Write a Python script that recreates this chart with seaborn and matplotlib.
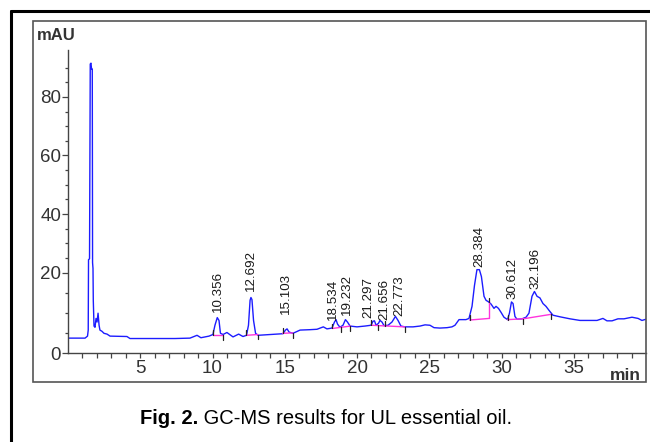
import numpy as np
import pandas as pd
import seaborn as sns
import matplotlib.pyplot as plt
from matplotlib.patches import Rectangle
from matplotlib.lines import Line2D

# chromatogram trace: retention time (min) and signal (mAU)
trace_time = [0.0, 1.18, 1.35, 1.40, 1.42, 1.49, 1.54, 1.59, 1.63, 1.68, 1.70, 1.73, 1.75,
              1.80, 1.87, 1.94, 2.01, 2.08, 2.15, 2.21, 2.35, 2.49, 2.70, 2.91, 4.08, 4.29,
              7.40, 8.44, 8.93, 9.20, 9.76, 10.03, 10.17, 10.33, 10.45, 10.55, 10.73, 11.00,
              11.42, 11.81, 12.11, 12.35, 12.49, 12.60, 12.66, 12.73, 12.84, 12.98, 13.15,
              13.98, 14.88, 15.05, 15.16, 15.30, 15.57, 16.06, 16.75, 17.23, 17.67, 17.92,
              18.27, 18.44, 18.55, 18.65, 18.82, 19.03, 19.20, 19.34, 19.52, 20.00, 20.55,
              20.97, 21.11, 21.21, 21.32, 21.49, 21.59, 21.73, 21.87, 22.15, 22.42, 22.66,
              22.84, 23.04, 23.32, 23.88, 24.36, 24.71, 25.05, 25.33, 25.74, 26.23, 26.57,
              26.78, 27.06, 27.54, 27.75, 27.96, 28.13, 28.30, 28.47, 28.61, 28.79, 28.93,
              29.07, 29.27, 29.48, 29.62, 29.79, 29.97, 30.17, 30.42, 30.55, 30.69, 30.80,
              30.93, 31.07, 31.42, 31.70, 31.90, 32.11, 32.28, 32.46, 32.66, 32.87, 33.08,
              33.29, 33.56, 34.05, 34.74, 35.43, 36.12, 36.61, 37.02, 37.30, 37.65, 38.06,
              38.48, 39.03, 39.45, 39.72, 40.0]
trace_mau = [3.7, 3.7, 4.2, 5.7, 24.4, 24.7, 91.2, 91.5, 89.5, 89.5, 23.4, 21.4, 13.1,
             6.7, 6.4, 8.6, 7.7, 9.9, 6.9, 5.7, 5.4, 4.9, 4.7, 4.2, 4.1, 3.6,
             3.6, 3.7, 4.4, 3.8, 4.2, 4.6, 6.9, 8.8, 8.1, 4.9, 4.6, 5.1,
             4.0, 4.7, 4.1, 4.4, 6.9, 13.1, 13.8, 13.3, 8.1, 4.9, 4.4,
             4.6, 4.8, 5.7, 6.0, 5.2, 4.9, 5.7, 5.8, 5.9, 6.5, 6.0,
             6.2, 7.7, 8.3, 7.2, 6.4, 6.9, 8.3, 7.7, 6.7, 6.5, 6.7,
             6.9, 7.9, 8.0, 6.9, 7.4, 8.1, 7.7, 6.8, 6.9, 7.7, 9.1,
             8.1, 6.7, 6.5, 6.5, 6.7, 7.0, 6.9, 6.3, 6.2, 6.3, 6.5,
             6.9, 8.3, 8.3, 8.6, 11.6, 16.8, 21.0, 21.0, 19.0, 14.1, 13.1,
             12.8, 12.2, 11.1, 11.6, 11.1, 10.1, 8.9, 8.3, 9.9, 12.7, 12.3,
             9.1, 8.4, 8.5, 8.9, 9.9, 14.1, 15.3, 14.1, 13.7, 12.3, 11.6,
             10.6, 9.4, 9.0, 8.5, 8.1, 8.1, 8.1, 8.6, 8.0, 8.0, 8.5,
             8.5, 8.9, 8.6, 8.1, 8.4]

# labelled peaks
peak_times = [10.356, 12.692, 15.103, 18.534, 19.232, 21.297, 21.656, 22.773, 28.384, 30.612, 32.196]
peak_heights = [8.8, 13.8, 6.0, 8.3, 8.3, 8.0, 8.1, 9.1, 21.0, 12.7, 15.3]

# integration baselines (magenta)
base_t0 = [10.05, 12.35, 14.85, 18.30, 21.00, 27.80, 30.42, 31.50]
base_v0 = [4.5, 4.4, 4.9, 6.1, 6.9, 8.2, 8.3, 8.5]
base_t1 = [10.70, 13.15, 15.55, 19.55, 23.30, 29.15, 31.50, 33.40]
base_v1 = [4.5, 4.6, 5.0, 6.7, 6.5, 8.6, 8.5, 9.6]
drop_time = 29.15
drop_top = 12.6

# peak start / end marks
mark_times = [10.05, 10.70, 12.35, 13.15, 14.85, 15.55, 18.30, 18.90, 19.55,
              21.00, 21.45, 21.95, 23.30, 27.80, 29.15, 30.42, 31.50, 33.40]
mark_levels = [4.5, 4.5, 4.4, 4.6, 4.9, 5.0, 6.1, 6.4, 6.7,
               6.9, 6.85, 6.75, 6.5, 8.2, 12.6, 8.3, 8.5, 9.6]
mark_dirs = [1, -1, 1, -1, 1, -1, 1, -1, -1, 1, -1, 1, -1, 1, 1, 1, -1, -1]

# label nudges in points (dx, dy)
label_nudge = {10.356: (0, 4), 12.692: (0, 5), 15.103: (0, 11), 18.534: (-2.1, 0),
               19.232: (1.0, 3), 21.297: (-5.2, 2), 21.656: (2.2, 0), 22.773: (1.7, 0),
               28.384: (1, 1.7), 30.612: (1.6, 1.8), 32.196: (1.6, 1.5)}

sns.set_theme(style='ticks')
plt.rcParams['font.family'] = ['Liberation Sans', 'DejaVu Sans']

W, H = 650, 442
fig = plt.figure(figsize=(6.5, 4.42), dpi=100)
ax = fig.add_axes([68 / W, (H - 353) / H, (646 - 68) / W, (353 - 50) / H])

df = pd.DataFrame({'time': trace_time, 'mAU': trace_mau})
sns.lineplot(data=df, x='time', y='mAU', ax=ax, color='#1c1cff', linewidth=1.0,
             estimator=None, sort=False)

for t0, v0, t1, v1 in zip(base_t0, base_v0, base_t1, base_v1):
    ax.plot([t0, t1], [v0, v1], color='#ff33dd', linewidth=1.0, zorder=3)
ax.plot([drop_time, drop_time], [base_v1[5], drop_top], color='#ff33dd', linewidth=1.0, zorder=3)

for t, v, d in zip(mark_times, mark_levels, mark_dirs):
    ax.plot([t, t], [v, v + d * 1.2], color='#222222', linewidth=0.9, zorder=4)

for t, h in zip(peak_times, peak_heights):
    dx, dy = label_nudge[t]
    ax.annotate(f'{t:.3f}', xy=(t, h), xytext=(dx, dy), textcoords='offset points',
                rotation=90, ha='center', va='bottom', fontsize=9.6, color='#1a1a1a')


# the y axis of the original is stretched below 20 mAU
def fwd(y):
    y = np.asarray(y, dtype=float)
    return np.where(y <= 20, y * 4.05, 81 + (y - 20) * 2.95)


def inv(v):
    v = np.asarray(v, dtype=float)
    return np.where(v <= 81, v / 4.05, 20 + (v - 81) / 2.95)


ax.set_yscale('function', functions=(fwd, inv))
ax.set_xlim(0, 40)
ax.set_ylim(0, 96)
ax.set_xticks([5, 10, 15, 20, 25, 30, 35])
ax.set_xticks([m for m in range(1, 40) if m % 5 != 0], minor=True)
ax.set_yticks([0, 20, 40, 60, 80])
ax.set_yticks([m for m in range(5, 95, 5) if m % 20 != 0], minor=True)
ax.set_xlabel('')
ax.set_ylabel('')

for s in ['top', 'right']:
    ax.spines[s].set_visible(False)
for s in ['left', 'bottom']:
    ax.spines[s].set_color('#444444')
    ax.spines[s].set_linewidth(1.0)
ax.tick_params(axis='both', which='both', direction='out', color='#444444', width=0.9,
               labelcolor='#333333', labelsize=13.5)
ax.tick_params(axis='x', which='major', length=3.8, pad=1)
ax.tick_params(axis='x', which='minor', length=3.8)
ax.tick_params(axis='y', which='major', length=4.5, pad=0.5)
ax.tick_params(axis='y', which='minor', length=2.2)
ax.patch.set_alpha(0)

# frames
fig.patches.append(Rectangle((33 / W, (H - 382) / H), 613 / W, 361 / H, transform=fig.transFigure,
                             fill=False, edgecolor='#555555', linewidth=1.2, zorder=0))
fig.lines.append(Line2D([11 / W, 1.0], [(H - 11) / H, (H - 11) / H], transform=fig.transFigure,
                        color='black', linewidth=2.2))
fig.lines.append(Line2D([11 / W, 11 / W], [0, (H - 11) / H], transform=fig.transFigure,
                        color='black', linewidth=2.2))

fig.text(56.5 / W, (H - 36) / H, 'mAU', fontsize=12, fontweight='bold', color='#333333',
         ha='center', va='center')
fig.text(625 / W, (H - 376) / H, 'min', fontsize=12.5, fontweight='bold', color='#333333',
         ha='center', va='center')

# caption
fig.canvas.draw()
r = fig.canvas.get_renderer()
t1 = fig.text(140 / W, (H - 418) / H, 'Fig. 2.', fontsize=14.5, fontweight='bold',
              color='black', ha='left', va='center')
bb = t1.get_window_extent(renderer=r)
x_end = fig.transFigure.inverted().transform((bb.x1, bb.y0))[0]
fig.text(x_end, (H - 418) / H, ' GC-MS results for UL essential oil.', fontsize=14.5,
         color='black', ha='left', va='center')

fig.savefig('out.png', dpi=100)
